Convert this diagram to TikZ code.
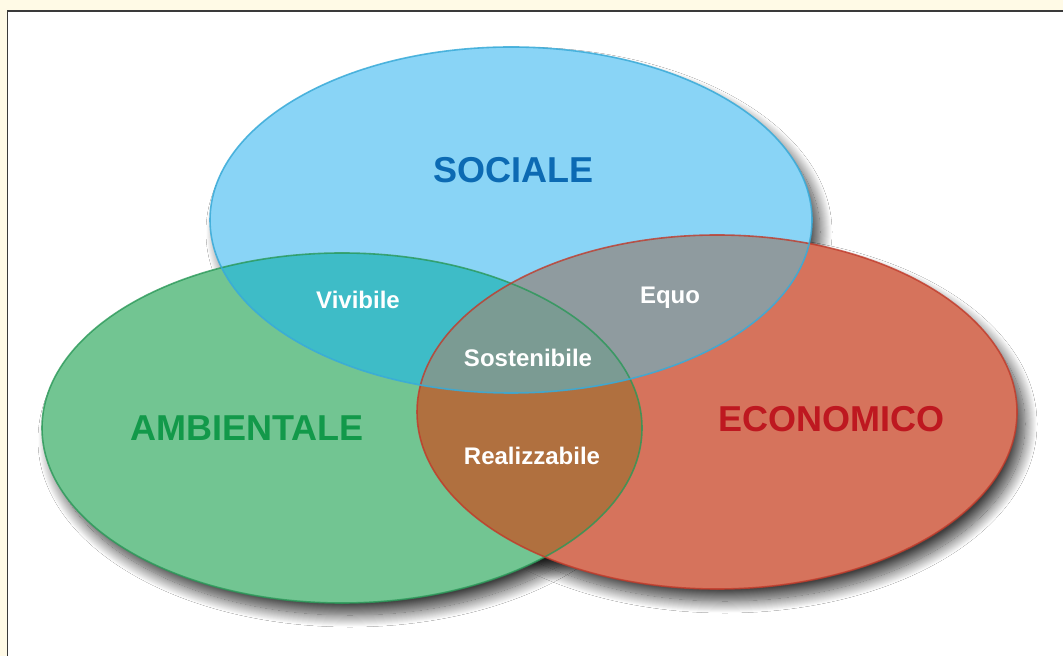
\documentclass[tikz,border=0pt]{standalone}
\usepackage{fontspec}
\setmainfont{Liberation Sans}
\usepackage{xcolor}
\usepackage{tikz}
\usetikzlibrary{shadows.blur}

\definecolor{cream}{HTML}{FFFAE6}
\definecolor{framegray}{HTML}{3A3A3A}
\definecolor{socfill}{HTML}{89D4F6}
\definecolor{socline}{HTML}{38AAD8}
\definecolor{soctext}{HTML}{0C6AB3}
\definecolor{ambfill}{HTML}{72C592}
\definecolor{ambline}{HTML}{2A9858}
\definecolor{ambtext}{HTML}{12994A}
\definecolor{ecofill}{HTML}{D6735C}
\definecolor{ecoline}{HTML}{C03A2A}
\definecolor{ecotext}{HTML}{BE1820}
\definecolor{vivfill}{HTML}{3EBCC7}
\definecolor{equofill}{HTML}{8F9B9F}
\definecolor{realfill}{HTML}{B0703F}
\definecolor{sostfill}{HTML}{7B9B93}

\begin{document}
\begin{tikzpicture}[x=0.5pt, y=0.5pt,
title/.style={font=\fontsize{18}{20}\selectfont\bfseries},
tag/.style={font=\fontsize{12}{14}\selectfont\bfseries, text=white},
dropshade/.style={blur shadow={shadow xshift=4pt, shadow yshift=-6pt, shadow blur radius=6pt, shadow blur steps=24, shadow opacity=75}},
rim/.style={line width=0.8pt}
]
	\useasboundingbox (0,0) rectangle (1063,-656);
	\fill[cream] (0,0) rectangle (1063,-656);
	\draw[framegray, line width=0.8pt, fill=white] (7.5,-11) rectangle (1090,-690);

	% centres of the three sets
	\coordinate (soc) at (511,-220);
	\coordinate (amb) at (342,-428);
	\coordinate (eco) at (717,-412);

	% shadows first, so they only fall on the white page
	\path[dropshade] (amb) ellipse [x radius=300, y radius=175];
	\path[dropshade] (eco) ellipse [x radius=300, y radius=177];
	\path[dropshade] (soc) ellipse [x radius=301, y radius=173];

	\fill[ambfill] (amb) ellipse [x radius=300, y radius=175];
	\fill[ecofill] (eco) ellipse [x radius=300, y radius=177];
	\fill[socfill] (soc) ellipse [x radius=301, y radius=173];

	% overlaps
	\begin{scope}
		\clip (amb) ellipse [x radius=300, y radius=175];
		\fill[realfill] (eco) ellipse [x radius=300, y radius=177];
	\end{scope}
	\begin{scope}
		\clip (soc) ellipse [x radius=301, y radius=173];
		\fill[vivfill] (amb) ellipse [x radius=300, y radius=175];
		\fill[equofill] (eco) ellipse [x radius=300, y radius=177];
		\clip (amb) ellipse [x radius=300, y radius=175];
		\fill[sostfill] (eco) ellipse [x radius=300, y radius=177];
	\end{scope}

	% outlines
	\draw[rim, ambline, opacity=0.8] (amb) ellipse [x radius=300, y radius=175];
	\draw[rim, ecoline, opacity=0.8] (eco) ellipse [x radius=300, y radius=177];
	\draw[rim, socline, opacity=0.85] (soc) ellipse [x radius=301, y radius=173];

	\node[title, text=soctext] (sociale) at (513,-170) {SOCIALE};
	\node[title, text=ambtext] (ambientale) at (247,-428) {AMBIENTALE};
	\node[title, text=ecotext] (economico) at (831,-419) {ECONOMICO};

	\node[tag] (vivibile) at (358,-300) {Vivibile};
	\node[tag] (equo) at (670,-298) {Equo};
	\node[tag] (sostenibile) at (528,-358) {Sostenibile};
	\node[tag] (realizzabile) at (532,-456) {Realizzabile};
\end{tikzpicture}
\end{document}
